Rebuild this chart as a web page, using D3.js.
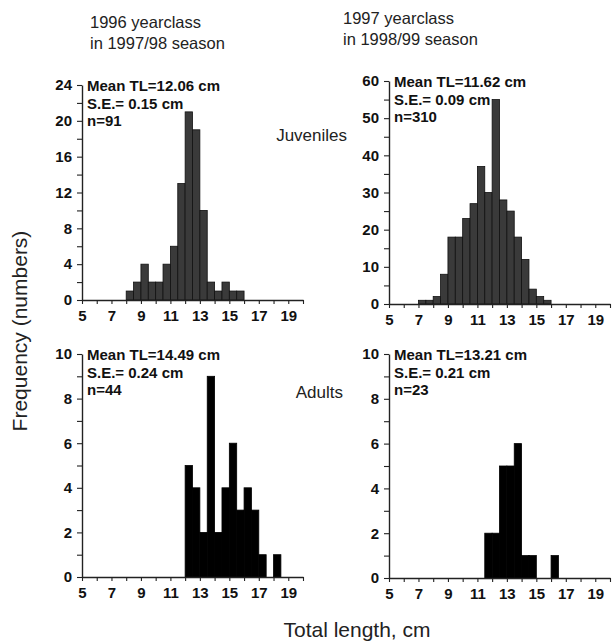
<!DOCTYPE html>
<html>
<head>
<meta charset="utf-8">
<script src="https://cdn.jsdelivr.net/npm/d3@7"></script>
<style>
    body { margin: 0; background: #fff; }
    svg { display: block; font-family: "Liberation Sans", Arial, sans-serif; }
    .axis path, .axis line { stroke: #222; }
    .axis path { stroke-width: 1.4; }
    .axis line { stroke-width: 1.1; }
    .axis text { font-size: 15px; font-weight: bold; fill: #111; font-family: "Liberation Sans", Arial, sans-serif; }
    .stats { font-size: 15px; font-weight: bold; fill: #111; }
    .colTitle { font-size: 16.5px; fill: #222; }
    .rowLabel { font-size: 17px; fill: #222; }
    .axisTitle { font-size: 21px; fill: #222; }
</style>
</head>
<body>
<script>
(function () {

    //length classes (lower edge of 0.5 cm bins) and counts
    var juv9798Lengths = [8, 8.5, 9, 9.5, 10, 10.5, 11, 11.5, 12, 12.5, 13, 13.5, 14, 14.5, 15, 15.5];
    var juv9798Counts = [1, 2, 4, 2, 2, 4, 6, 13, 21, 19, 10, 2, 1, 2, 1, 1];

    var juv9899Lengths = [7, 7.5, 8, 8.5, 9, 9.5, 10, 10.5, 11, 11.5, 12, 12.5, 13, 13.5, 14, 14.5, 15, 15.5];
    var juv9899Counts = [1, 1, 2, 8, 18, 18, 23, 27, 37, 30, 55, 28, 25, 18, 12, 4, 2, 1];

    var adu9798Lengths = [12, 12.5, 13, 13.5, 14, 14.5, 15, 15.5, 16, 16.5, 17, 17.5, 18];
    var adu9798Counts = [5, 4, 2, 9, 2, 4, 6, 3, 4, 3, 1, 0, 1];

    var adu9899Lengths = [11.5, 12, 12.5, 13, 13.5, 14, 14.5, 15, 15.5, 16];
    var adu9899Counts = [2, 2, 5, 5, 6, 1, 1, 0, 0, 1];

    //summary text in each panel
    var juv9798Stats = ["Mean TL=12.06 cm", "S.E.= 0.15 cm", "n=91"];
    var juv9899Stats = ["Mean TL=11.62 cm", "S.E.= 0.09 cm", "n=310"];
    var adu9798Stats = ["Mean TL=14.49 cm", "S.E.= 0.24 cm", "n=44"];
    var adu9899Stats = ["Mean TL=13.21 cm", "S.E.= 0.21 cm", "n=23"];

    //x axis ticks and labels (shared by all panels)
    var xTicks = [5, 6, 7, 8, 9, 10, 11, 12, 13, 14, 15, 16, 17, 18, 19, 20];
    var xLabels = [5, 7, 9, 11, 13, 15, 17, 19];

    var binWidth = 0.5;

    //panel frames
    var width = 616,
        height = 642,
        plotWidth = 221;

    var panels = [
        { lengths: juv9798Lengths, counts: juv9798Counts, stats: juv9798Stats,
          left: 82, bottom: 300, top: 85, yMax: 24, yMinor: 2, yMajor: 4, fill: "#3a3a3a", stroke: "#111" },
        { lengths: juv9899Lengths, counts: juv9899Counts, stats: juv9899Stats,
          left: 389, bottom: 304, top: 81, yMax: 60, yMinor: 5, yMajor: 10, fill: "#3a3a3a", stroke: "#111" },
        { lengths: adu9798Lengths, counts: adu9798Counts, stats: adu9798Stats,
          left: 82, bottom: 577, top: 354, yMax: 10, yMinor: 1, yMajor: 2, fill: "#000", stroke: "#000" },
        { lengths: adu9899Lengths, counts: adu9899Counts, stats: adu9899Stats,
          left: 389, bottom: 578, top: 354, yMax: 10, yMinor: 1, yMajor: 2, fill: "#000", stroke: "#000" }
    ];

    var svg = d3.select("body")
        .append("svg")
        .attr("width", width)
        .attr("height", height);

    panels.forEach(function (p) {
        drawPanel(svg, p);
    });

    //column headings
    var titles = [
        { x: 90, y: 28, lines: ["1996 yearclass", "in 1997/98 season"] },
        { x: 343, y: 24, lines: ["1997 yearclass", "in 1998/99 season"] }
    ];
    titles.forEach(function (t) {
        var txt = svg.append("text")
            .attr("class", "colTitle")
            .attr("x", t.x)
            .attr("y", t.y);
        t.lines.forEach(function (line, i) {
            txt.append("tspan")
                .attr("x", t.x)
                .attr("dy", i === 0 ? 0 : 21)
                .text(line);
        });
    });

    //row labels
    svg.append("text")
        .attr("class", "rowLabel")
        .attr("x", 347)
        .attr("y", 141)
        .attr("text-anchor", "end")
        .text("Juveniles");

    svg.append("text")
        .attr("class", "rowLabel")
        .attr("x", 343)
        .attr("y", 398)
        .attr("text-anchor", "end")
        .text("Adults");

    //axis titles
    svg.append("text")
        .attr("class", "axisTitle")
        .attr("transform", "translate(27,331) rotate(-90)")
        .attr("text-anchor", "middle")
        .text("Frequency (numbers)");

    svg.append("text")
        .attr("class", "axisTitle")
        .attr("x", 357)
        .attr("y", 637)
        .attr("text-anchor", "middle")
        .text("Total length, cm");

    function drawPanel(svg, p) {
        var x = d3.scaleLinear()
            .domain([5, 20])
            .range([p.left, p.left + plotWidth]);

        var y = d3.scaleLinear()
            .domain([0, p.yMax])
            .range([p.bottom, p.top]);

        var g = svg.append("g");

        //bars
        g.selectAll(".bars")
            .data(p.counts.map(function (c, i) { return { start: p.lengths[i], count: c }; }))
            .enter()
            .filter(function (d) { return d.count > 0; })
            .append("rect")
            .attr("class", "bars")
            .attr("x", function (d) { return x(d.start); })
            .attr("width", function (d) { return x(d.start + binWidth) - x(d.start); })
            .attr("y", function (d) { return y(d.count); })
            .attr("height", function (d) { return y(0) - y(d.count); })
            .style("fill", p.fill)
            .style("stroke", p.stroke)
            .style("stroke-width", 0.8);

        //y axis: minor ticks every yMinor, labels on majors
        var yTicks = d3.range(0, p.yMax + 0.001, p.yMinor);
        g.append("g")
            .attr("class", "axis")
            .attr("transform", "translate(" + p.left + ",0)")
            .call(d3.axisLeft(y)
                .tickValues(yTicks)
                .tickSize(5)
                .tickSizeOuter(0)
                .tickPadding(5)
                .tickFormat(function (d) { return d % p.yMajor === 0 ? d : ""; }));

        //x axis
        g.append("g")
            .attr("class", "axis")
            .attr("transform", "translate(0," + p.bottom + ")")
            .call(d3.axisBottom(x)
                .tickValues(xTicks)
                .tickSize(4)
                .tickSizeOuter(0)
                .tickPadding(6)
                .tickFormat(function (d) { return xLabels.indexOf(d) > -1 ? d : ""; }));

        //summary statistics
        g.selectAll(".stats")
            .data(p.stats)
            .enter()
            .append("text")
            .attr("class", "stats")
            .attr("x", p.left + 5)
            .attr("y", function (d, i) { return p.top + 6 + i * 17.5; })
            .text(function (d) { return d; });
    }
})();
</script>
</body>
</html>
